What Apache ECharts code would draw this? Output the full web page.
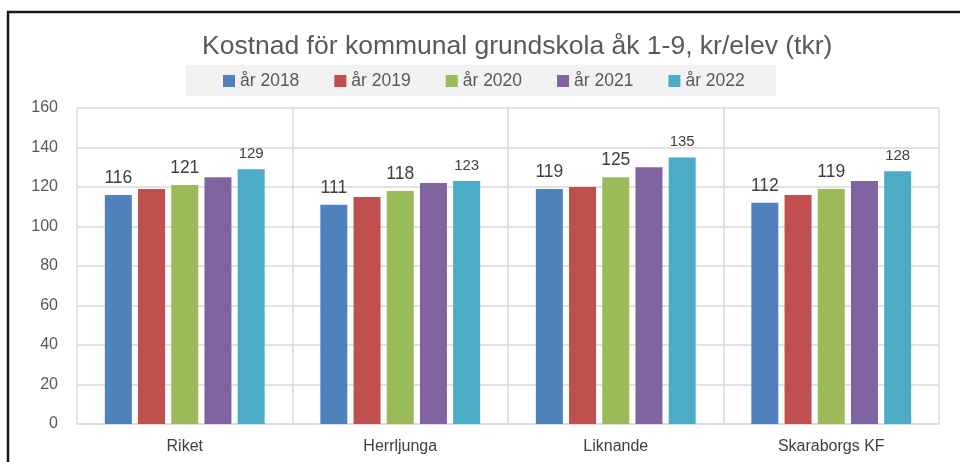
<!DOCTYPE html>
<html>
<head>
<meta charset="utf-8">
<script src="https://cdn.jsdelivr.net/npm/echarts@6/dist/echarts.min.js"></script>
<style>
  html, body { margin: 0; padding: 0; background: #fff; }
  #chart { width: 960px; height: 462px; }
</style>
</head>
<body>
<div id="chart"></div>
<script>
var categories = ['Riket', 'Herrljunga', 'Liknande', 'Skaraborgs KF']
var years = ['år 2018', 'år 2019', 'år 2020', 'år 2021', 'år 2022']
var v2018 = [116, 111, 119, 112]
var v2019 = [119, 115, 120, 116]
var v2020 = [121, 118, 125, 119]
var v2021 = [125, 122, 130, 123]
var v2022 = [129, 123, 135, 128]
var yTicks = [0, 20, 40, 60, 80, 100, 120, 140, 160]

var colors = ['#4f81bd', '#c0504d', '#9bbb59', '#8064a2', '#4bacc6']
var values = [v2018, v2019, v2020, v2021, v2022]
var labelSize = [17.5, 0, 17.5, 0, 15]
var font = '"Liberation Sans", Arial, sans-serif'

var chart = echarts.init(document.getElementById('chart'))

var series = years.map(function (name, i) {
  return {
    name: name,
    type: 'bar',
    data: values[i],
    barWidth: 27,
    barGap: '23%',
    itemStyle: { color: colors[i] },
    label: {
      show: labelSize[i] > 0,
      position: 'top',
      distance: 8,
      color: '#404040',
      fontFamily: font,
      fontSize: labelSize[i] || 12
    }
  }
})

var option = {
  animation: false,
  color: colors,
  title: {
    text: 'Kostnad för kommunal grundskola åk 1-9, kr/elev (tkr)',
    left: 197,
    top: 28,
    textStyle: {
      fontFamily: font,
      fontSize: 26.5,
      fontWeight: 'normal',
      color: '#595959'
    }
  },
  legend: {
    data: years,
    left: 186,
    top: 65,
    backgroundColor: '#f2f2f2',
    padding: [7, 31, 6, 37],
    itemWidth: 12,
    itemHeight: 12,
    itemGap: 35,
    icon: 'rect',
    textStyle: {
      fontFamily: font,
      fontSize: 17.5,
      color: '#595959'
    }
  },
  grid: {
    left: 77,
    right: 21,
    top: 108,
    bottom: 38
  },
  xAxis: {
    type: 'category',
    data: categories,
    axisLine: { lineStyle: { color: '#d9d9d9', width: 1.5 } },
    axisTick: { show: false },
    splitLine: { show: true, lineStyle: { color: '#d9d9d9', width: 1.5 } },
    axisLabel: {
      margin: 15,
      fontFamily: font,
      fontSize: 16,
      color: '#404040'
    }
  },
  yAxis: {
    type: 'value',
    min: yTicks[0],
    max: yTicks[yTicks.length - 1],
    interval: 20,
    axisLine: { show: false },
    axisTick: { show: false },
    splitLine: { lineStyle: { color: '#d9d9d9', width: 1.5 } },
    axisLabel: {
      margin: 19,
      fontFamily: font,
      fontSize: 16,
      color: '#595959'
    }
  },
  graphic: [{
    type: 'polyline',
    shape: { points: [[8, 470], [8, 12], [970, 12]] },
    style: { stroke: '#1a1a1a', lineWidth: 2.5, fill: null }
  }],
  series: series
}

chart.setOption(option)
</script>
</body>
</html>
